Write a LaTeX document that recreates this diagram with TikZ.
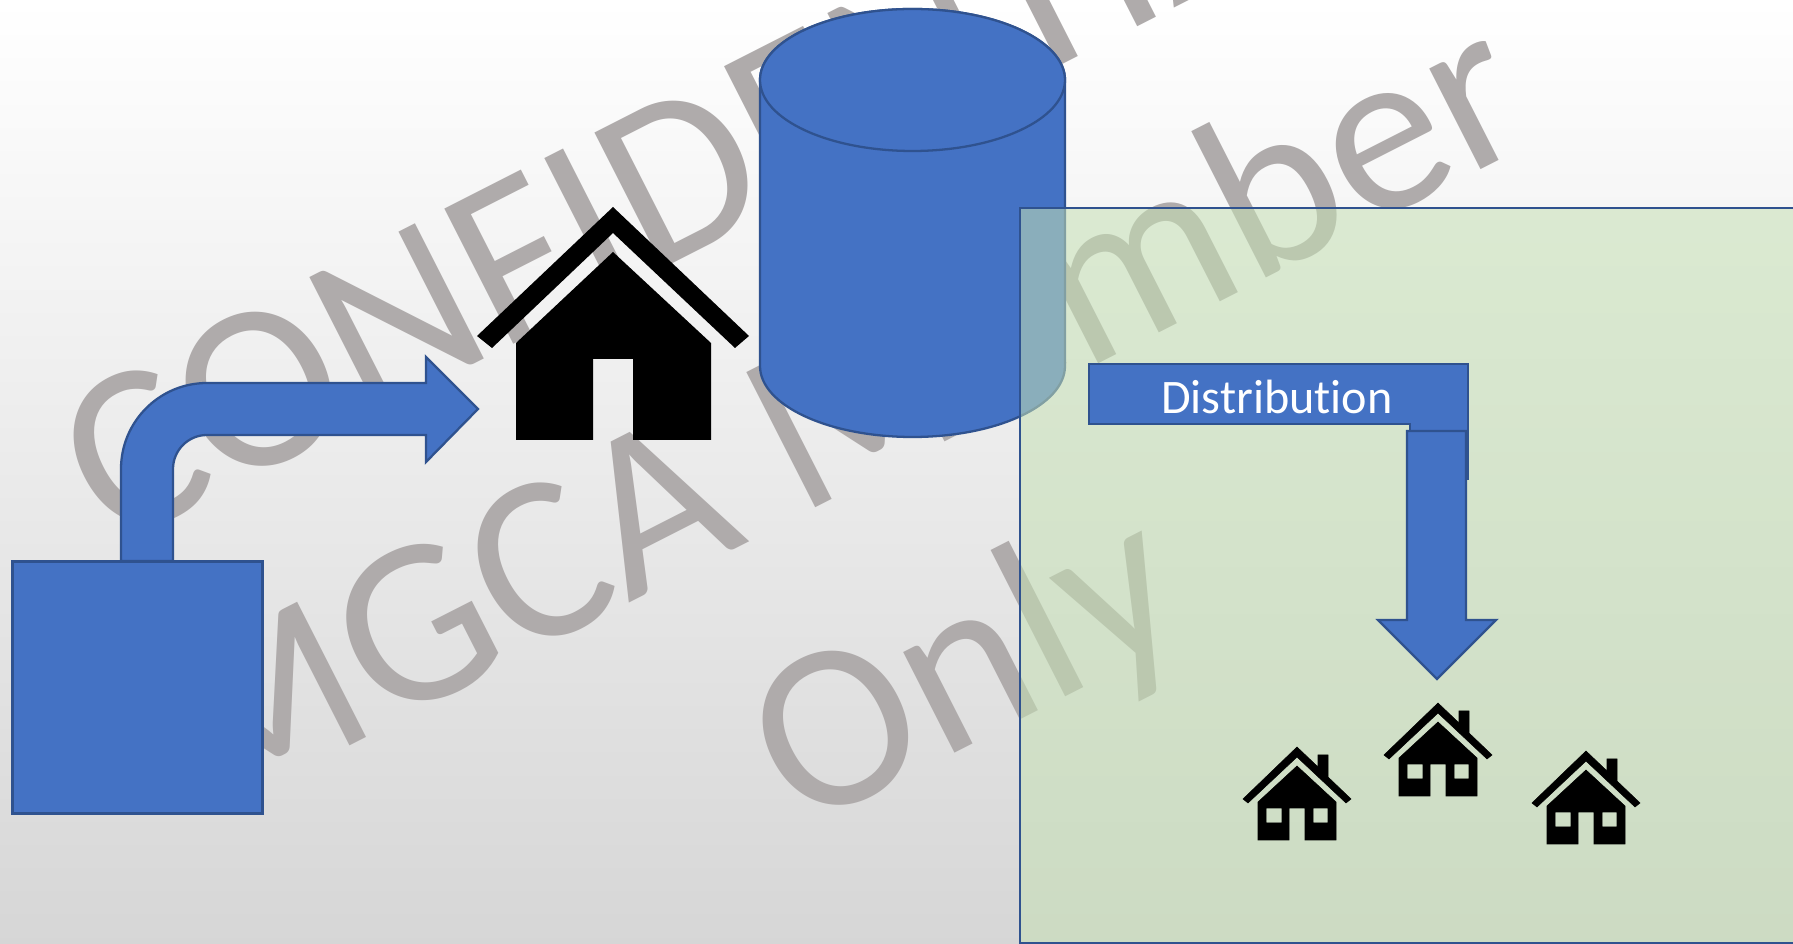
\documentclass[tikz,border=0pt]{standalone}
\usepackage{fontspec}
\setmainfont[Ligatures=NoCommon]{Carlito}
\usetikzlibrary{shapes.geometric, positioning}
\definecolor{OfficeBlue}{HTML}{4472C4}
\definecolor{OfficeEdge}{HTML}{2F528F}
\definecolor{OfficeGreen}{HTML}{C5E0B4}
\definecolor{MarkGrey}{HTML}{AFABAB}
\begin{document}
\begin{tikzpicture}[
    x=0.1mm, y=-0.1mm,
    block/.style={fill=OfficeBlue, draw=OfficeEdge, line width=0.65pt},
    markline/.style={text=MarkGrey, font=\fontsize{67.3}{72}\selectfont, rotate=27, inner sep=0pt},
    tinyhouse/.pic={
      \filldraw[line width=0.15pt] (-54,52) -- (0,0) -- (21,20) -- (21,8) -- (31,8) -- (31,30) -- (54,52)
            -- (49,56) -- (0,10) -- (-49,56) -- cycle;
      \filldraw[line width=0.15pt, even odd rule] (0,19) -- (39,55) -- (39,93) -- (8,93) -- (8,61) -- (-8,61)
            -- (-8,93) -- (-39,93) -- (-39,55) -- cycle
            (-31,61) rectangle (-15,76) (16,61) rectangle (31,76);
    }
  ]
  \useasboundingbox (0,0) rectangle (1793,944);
  \clip (0,0) rectangle (1793,944);
  \shade[top color=white, middle color=white!96!black, bottom color=white!84!black]
        (0,0) rectangle (1793,944);

  % Watermark
  \node[markline] (markA) at (714,157) {CONFIDENTIAL};
  \node[markline] (markB) at (835,407) {MGCA Member};
  \node[markline] (markC) at (969,675) {Only};

  \node[block, minimum width=25.0mm, minimum height=25.2mm, inner sep=0pt, outer sep=0pt]
        (plant) at (137.5,687.5) {};

  % Supply arrow
  \draw[block] (121,561) -- (121,469) arc[start angle=180, end angle=90, radius=8.6mm]
        -- (426,383) -- (426,357) -- (478,409) -- (426,462) -- (426,435) -- (207,435)
        arc[start angle=90, end angle=180, radius=3.4mm] -- (173,561) -- cycle;

  % Building
  \fill (477,336) -- (613,207) -- (749,336) -- (735,348) -- (613,233) -- (492,348) -- cycle;
  \fill (613,252) -- (711,343) -- (711,440) -- (633,440) -- (633,359) -- (593,359)
        -- (593,440) -- (516,440) -- (516,343) -- cycle;

  % Tank
  \draw[block] (760,80) -- (760,366) arc[start angle=180, end angle=360, x radius=15.25mm, y radius=7.1mm]
        -- (1065,80) arc[start angle=0, end angle=180, x radius=15.25mm, y radius=7.1mm] -- cycle;
  \node[ellipse, block, inner sep=0pt, outer sep=0pt, minimum width=30.5mm, minimum height=14.2mm]
        (tanktop) at (912.5,80) {};

  % Service area
  \fill[OfficeGreen, fill opacity=0.55] (1020,208) rectangle (1800,943);
  \draw[OfficeEdge, line width=0.65pt] (1800,943) -- (1020,943) -- (1020,208) -- (1800,208);

  \draw[block] (1089,364) -- (1468,364) -- (1468,479) -- (1410,479) -- (1410,424)
        -- (1089,424) -- cycle;
  \node[text=white, font=\fontsize{13.7}{16}\selectfont] (distlabel) at (1277,397) {Distribution};
  \draw[block] (1407,431) -- (1466,431) -- (1466,620) -- (1496,620) -- (1437,679)
        -- (1378,620) -- (1407,620) -- cycle;

  \pic (homeA) at (1297,747) {tinyhouse};
  \pic (homeB) at (1438,703) {tinyhouse};
  \pic (homeC) at (1586,751) {tinyhouse};
\end{tikzpicture}
\end{document}
